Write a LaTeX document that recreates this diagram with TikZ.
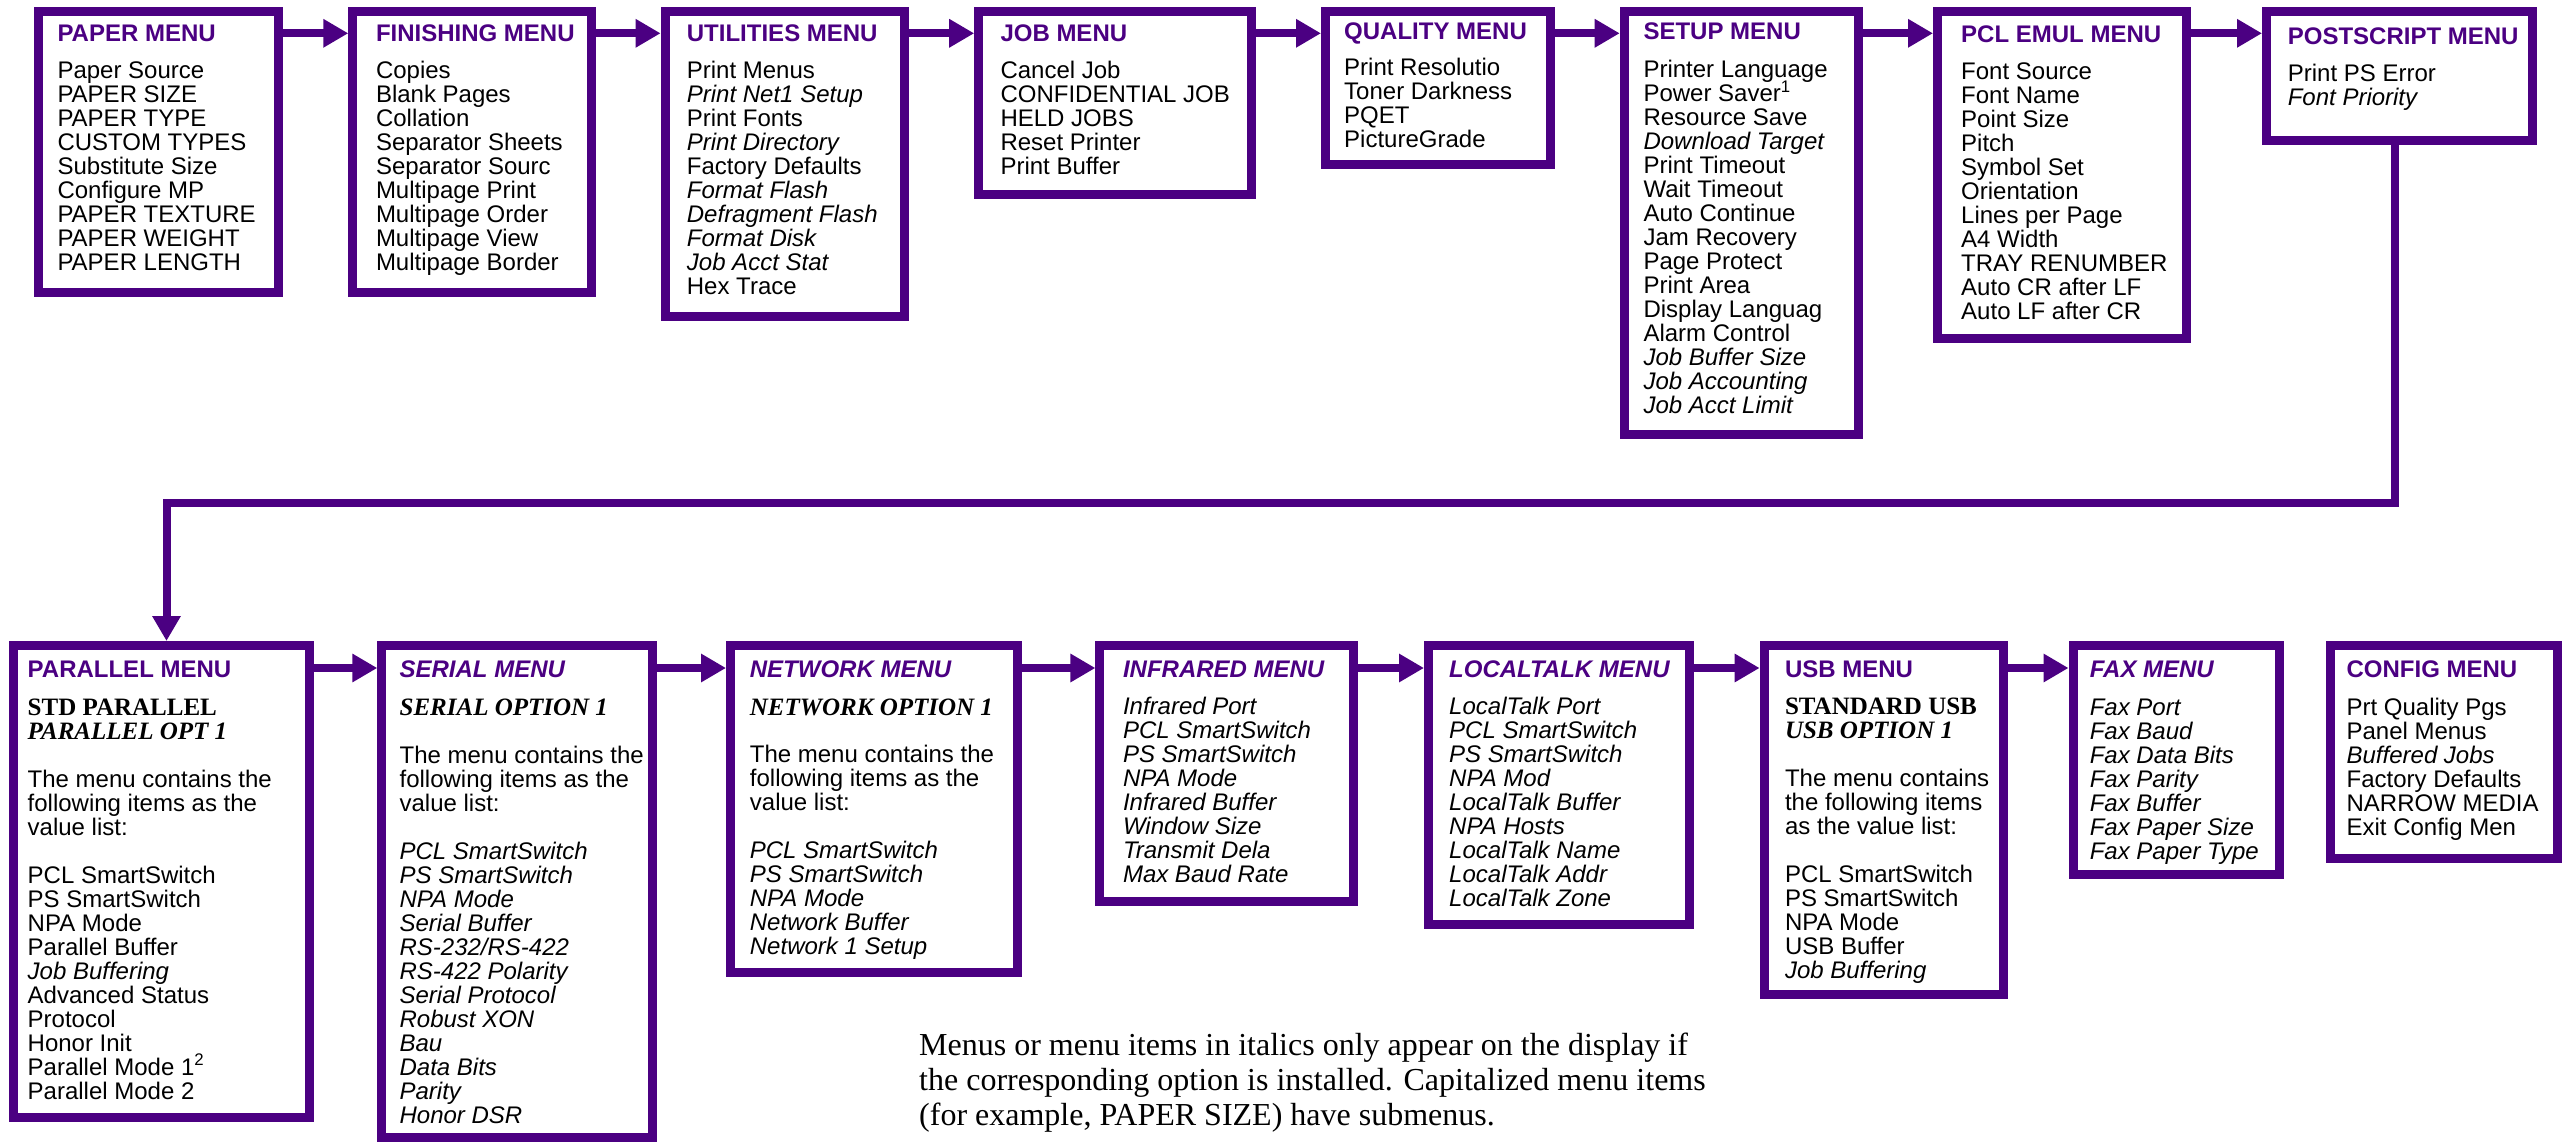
\documentclass[tikz,border=0pt]{standalone}
\usepackage{fontspec}
\setmainfont{Liberation Sans}
\newfontfamily\seriffont{Liberation Serif}
\usetikzlibrary{arrows.meta}
\definecolor{mpurple}{RGB}{75,0,130}
\newcommand\bodyf{\fontsize{24}{24}\selectfont}
\newcommand\titlef{\fontsize{24}{24}\selectfont\bfseries}
\newcommand\optf{\seriffont\fontsize{25}{24}\selectfont\bfseries}
\newcommand\notef{\seriffont\fontsize{32}{35}\selectfont}
\newcommand\supr[1]{\textsuperscript{#1}}
% multi-line block whose baseline is the first line, with exact line spacing
\newcommand\lines[1]{\vtop{\lineskiplimit=-\maxdimen\lineskip=0pt\relax
  \def\\{\cr}\def\gap{\cr\noalign{\vskip24pt}}%
  \halign{##\hfil\cr #1\crcr}}}
\newcommand\menubox[5]{\node[box, anchor=north west, minimum width={#4-#2-9}, minimum height={#5-#3-9}] (#1) at (#2,#3) {};}
\tikzset{
  box/.style={draw=mpurple, line width=9pt, inner sep=0pt, outer sep=4.5pt},
  ttl/.style={anchor=base west, inner sep=0pt, font=\titlef, text=mpurple},
  itm/.style={anchor=base west, inner sep=0pt, font=\bodyf},
  opt/.style={anchor=base west, inner sep=0pt, font=\optf},
  note/.style={anchor=base west, inner sep=0pt, font=\notef},
  conn/.style={draw=mpurple, line width=8pt, line join=miter, -{Triangle[length=25pt,width=27pt]}}
}
\begin{document}
\begin{tikzpicture}[x=1pt,y=-1pt]
\useasboundingbox (0,0) rectangle (2569,1142);
% ---------- top row boxes
\menubox{paper}{34.3}{7.3}{282.7}{297}
\menubox{finishing}{348.3}{7.3}{596.4}{297}
\menubox{utilities}{660.6}{7.3}{908.5}{321}
\menubox{job}{974.2}{7.3}{1255.5}{199.3}
\menubox{quality}{1321}{7.3}{1555}{169.3}
\menubox{setup}{1619.7}{7.3}{1863}{439.3}
\menubox{pcl}{1933}{7.3}{2191}{343}
\menubox{postscript}{2262}{7.3}{2537}{145}
% ---------- bottom row boxes
\menubox{parallel}{9}{641}{313.5}{1121.7}
\menubox{serial}{377.3}{641}{656.7}{1142}
\menubox{network}{726}{641}{1022}{976.8}
\menubox{infrared}{1095.4}{641}{1358}{905.6}
\menubox{localtalk}{1424}{641}{1694}{929.4}
\menubox{usb}{1759.6}{641}{2007.6}{999}
\menubox{fax}{2068.5}{641}{2284}{879}
\menubox{config}{2326}{641}{2561.5}{862.7}
% ---------- top row texts
\node[ttl] (tpaper) at (57.3,41.7) {PAPER MENU};
\node[itm] (ipaper) at (57.3,79) {\lines{Paper Source\\PAPER SIZE\\PAPER TYPE\\CUSTOM TYPES\\Substitute Size\\Configure MP\\PAPER TEXTURE\\PAPER WEIGHT\\PAPER LENGTH}};
\node[ttl] (tfinishing) at (375.8,41.7) {FINISHING MENU};
\node[itm] (ifinishing) at (375.8,79) {\lines{Copies\\Blank Pages\\Collation\\Separator Sheets\\Separator Sourc\\Multipage Print\\Multipage Order\\Multipage View\\Multipage Border}};
\node[ttl] (tutilities) at (686.7,41.7) {UTILITIES MENU};
\node[itm] (iutilities) at (686.7,79) {\lines{Print Menus\\\itshape Print Net1 Setup\\Print Fonts\\\itshape Print Directory\\Factory Defaults\\\itshape Format Flash\\\itshape Defragment Flash\\\itshape Format Disk\\\itshape Job Acct Stat\\Hex Trace}};
\node[ttl] (tjob) at (1000.3,41.7) {JOB MENU};
\node[itm] (ijob) at (1000.3,79) {\lines{Cancel Job\\CONFIDENTIAL JOB\\HELD JOBS\\Reset Printer\\Print Buffer}};
\node[ttl] (tquality) at (1344,39.3) {QUALITY MENU};
\node[itm] (iquality) at (1344,76) {\lines{Print Resolutio\\Toner Darkness\\PQET\\PictureGrade}};
\node[ttl] (tsetup) at (1643.3,40) {SETUP MENU};
\node[itm] (isetup) at (1643.3,77.3) {\lines{Printer Language\\Power Saver\supr{1}\\Resource Save\\\itshape Download Target\\Print Timeout\\Wait Timeout\\Auto Continue\\Jam Recovery\\Page Protect\\Print Area\\Display Languag\\Alarm Control\\\itshape Job Buffer Size\\\itshape Job Accounting\\\itshape Job Acct Limit}};
\node[ttl] (tpcl) at (1961,43) {PCL EMUL MENU};
\node[itm] (ipcl) at (1961,79.5) {\lines{Font Source\\Font Name\\Point Size\\Pitch\\Symbol Set\\Orientation\\Lines per Page\\A4 Width\\TRAY RENUMBER\\Auto CR after LF\\Auto LF after CR}};
\node[ttl] (tpostscript) at (2287.6,44.6) {POSTSCRIPT MENU};
\node[itm] (ipostscript) at (2287.6,81.2) {\lines{Print PS Error\\\itshape Font Priority}};
% ---------- bottom row texts
\node[ttl] (tparallel) at (27.5,677.5) {PARALLEL MENU};
\node[opt] (oparallel) at (27.5,715) {\lines{STD PARALLEL\\\itshape PARALLEL OPT 1}};
\node[itm] (iparallel) at (27.5,787) {\lines{The menu contains the\\following items as the\\value list:\gap PCL SmartSwitch\\PS SmartSwitch\\NPA Mode\\Parallel Buffer\\\itshape Job Buffering\\Advanced Status\\Protocol\\Honor Init\\Parallel Mode 1\supr{2}\\Parallel Mode 2}};
\node[ttl] (tserial) at (399.4,677.5) {\itshape SERIAL MENU};
\node[opt] (oserial) at (399.4,715) {\itshape SERIAL OPTION 1};
\node[itm] (iserial) at (399.4,763) {\lines{The menu contains the\\following items as the\\value list:\gap\itshape PCL SmartSwitch\\\itshape PS SmartSwitch\\\itshape NPA Mode\\\itshape Serial Buffer\\\itshape RS-232/RS-422\\\itshape RS-422 Polarity\\\itshape Serial Protocol\\\itshape Robust XON\\\itshape Bau\\\itshape Data Bits\\\itshape Parity\\\itshape Honor DSR}};
\node[ttl] (tnetwork) at (749.7,677) {\itshape NETWORK MENU};
\node[opt] (onetwork) at (749.7,715) {\itshape NETWORK OPTION 1};
\node[itm] (inetwork) at (749.7,762.5) {\lines{The menu contains the\\following items as the\\value list:\gap\itshape PCL SmartSwitch\\\itshape PS SmartSwitch\\\itshape NPA Mode\\\itshape Network Buffer\\\itshape Network 1 Setup}};
\node[ttl] (tinfrared) at (1122.8,677) {\itshape INFRARED MENU};
\node[itm] (iinfrared) at (1122.8,714) {\lines{\itshape Infrared Port\\\itshape PCL SmartSwitch\\\itshape PS SmartSwitch\\\itshape NPA Mode\\\itshape Infrared Buffer\\\itshape Window Size\\\itshape Transmit Dela\\\itshape Max Baud Rate}};
\node[ttl] (tlocaltalk) at (1449,677) {\itshape LOCALTALK MENU};
\node[itm] (ilocaltalk) at (1449,714) {\lines{\itshape LocalTalk Port\\\itshape PCL SmartSwitch\\\itshape PS SmartSwitch\\\itshape NPA Mod\\\itshape LocalTalk Buffer\\\itshape NPA Hosts\\\itshape LocalTalk Name\\\itshape LocalTalk Addr\\\itshape LocalTalk Zone}};
\node[ttl] (tusb) at (1784.8,677) {USB MENU};
\node[opt] (ousb) at (1784.8,714.5) {\lines{STANDARD USB\\\itshape USB OPTION 1}};
\node[itm] (iusb) at (1784.8,786.7) {\lines{The menu contains\\the following items\\as the value list:\gap PCL SmartSwitch\\PS SmartSwitch\\NPA Mode\\USB Buffer\\\itshape Job Buffering}};
\node[ttl] (tfax) at (2089.6,677) {\itshape FAX MENU};
\node[itm] (ifax) at (2089.6,715) {\lines{\itshape Fax Port\\\itshape Fax Baud\\\itshape Fax Data Bits\\\itshape Fax Parity\\\itshape Fax Buffer\\\itshape Fax Paper Size\\\itshape Fax Paper Type}};
\node[ttl] (tconfig) at (2346.4,677) {CONFIG MENU};
\node[itm] (iconfig) at (2346.4,715) {\lines{Prt Quality Pgs\\Panel Menus\\\itshape Buffered Jobs\\Factory Defaults\\NARROW MEDIA\\Exit Config Men}};
% ---------- footnote
\node[note] (footnote) at (919,1055) {\lines{Menus or menu items in italics only appear on the display if\\the corresponding option is installed. Capitalized menu items\\(for example, PAPER SIZE) have submenus.}};
% ---------- connectors
\coordinate (rowA) at (0,33.3);
\coordinate (rowB) at (0,668);
\draw[conn] (paper.east |- rowA) -- (finishing.west |- rowA);
\draw[conn] (finishing.east |- rowA) -- (utilities.west |- rowA);
\draw[conn] (utilities.east |- rowA) -- (job.west |- rowA);
\draw[conn] (job.east |- rowA) -- (quality.west |- rowA);
\draw[conn] (quality.east |- rowA) -- (setup.west |- rowA);
\draw[conn] (setup.east |- rowA) -- (pcl.west |- rowA);
\draw[conn] (pcl.east |- rowA) -- (postscript.west |- rowA);
\coordinate (bendR) at (2395,503);
\coordinate (bendL) at (166.5,503);
\draw[conn] (postscript.south -| bendR) -- (bendR) -- (bendL) -- (parallel.north -| bendL);
\draw[conn] (parallel.east |- rowB) -- (serial.west |- rowB);
\draw[conn] (serial.east |- rowB) -- (network.west |- rowB);
\draw[conn] (network.east |- rowB) -- (infrared.west |- rowB);
\draw[conn] (infrared.east |- rowB) -- (localtalk.west |- rowB);
\draw[conn] (localtalk.east |- rowB) -- (usb.west |- rowB);
\draw[conn] (usb.east |- rowB) -- (fax.west |- rowB);
\end{tikzpicture}
\end{document}
